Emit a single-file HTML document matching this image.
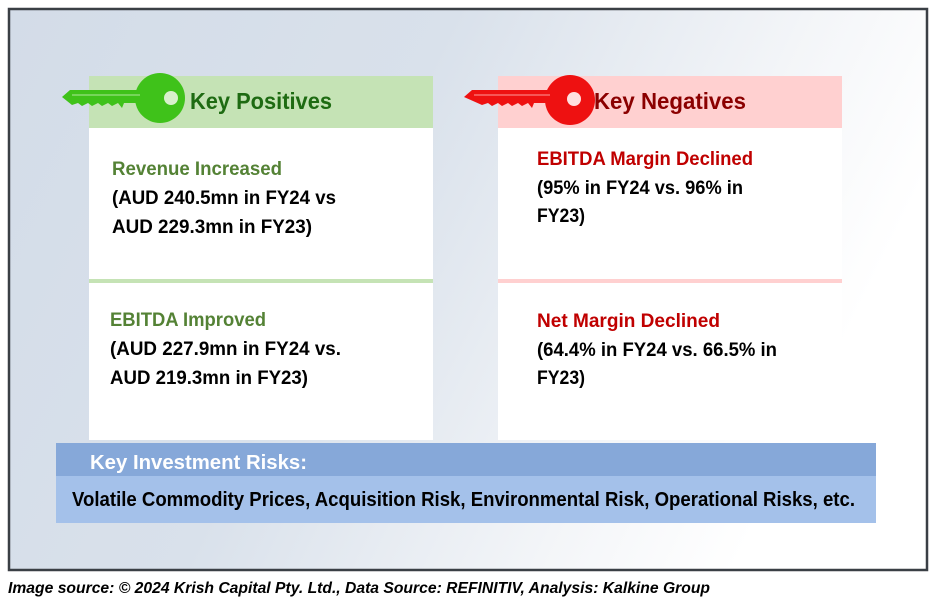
<!DOCTYPE html>
<html><head><meta charset="utf-8"><style>
html,body{margin:0;padding:0;background:#fff}
svg{display:block}
text{font-family:"Liberation Sans",sans-serif;font-weight:bold}
</style></head><body>
<svg width="936" height="604" viewBox="0 0 936 604">
<defs>
<linearGradient id="bg" x1="0" y1="0" x2="1" y2="0.3">
<stop offset="0" stop-color="#d3dce8"/><stop offset="0.45" stop-color="#d9e1eb"/><stop offset="0.8" stop-color="#f3f5f8"/><stop offset="1" stop-color="#ffffff"/>
</linearGradient>
</defs>
<rect x="9" y="9" width="918" height="561" fill="url(#bg)" stroke="#3a3f45" stroke-width="2.5"/>
<g>
<rect x="89" y="76" width="344" height="52" fill="#c5e3b5"/>
<rect x="89" y="128" width="344" height="312" fill="#ffffff"/>
<rect x="89" y="279" width="344" height="4" fill="#c5e3b5"/>
<g fill="#3fc21a">
<circle cx="160" cy="98" r="25"/>
<path d="M62 97 L70 90 L140 90 L140 103 L124 103 L122 108 L118 103 L112 106 L108 103 L102 106 L98 103 L92 106 L88 103 L82 106 L78 103 L72 105 Z"/>
</g>
<line x1="72" y1="95" x2="140" y2="95" stroke="#aee89a" stroke-width="1"/>
<circle cx="171" cy="98" r="7" fill="#d8f0cc"/>
<text x="190" y="109" font-size="23" fill="#1e6b12" textLength="142" lengthAdjust="spacingAndGlyphs">Key Positives</text>
<text x="112" y="175" font-size="19" fill="#548235" textLength="170" lengthAdjust="spacingAndGlyphs">Revenue Increased</text>
<text x="112" y="204" font-size="19" fill="#000" textLength="224" lengthAdjust="spacingAndGlyphs">(AUD 240.5mn in FY24 vs</text>
<text x="112" y="233" font-size="19" fill="#000" textLength="200" lengthAdjust="spacingAndGlyphs">AUD 229.3mn in FY23)</text>
<text x="110" y="326" font-size="19" fill="#548235" textLength="156" lengthAdjust="spacingAndGlyphs">EBITDA Improved</text>
<text x="110" y="355" font-size="19" fill="#000" textLength="231" lengthAdjust="spacingAndGlyphs">(AUD 227.9mn in FY24 vs.</text>
<text x="110" y="384" font-size="19" fill="#000" textLength="198" lengthAdjust="spacingAndGlyphs">AUD 219.3mn in FY23)</text>
</g>
<g>
<rect x="498" y="76" width="344" height="52" fill="#ffd0d0"/>
<rect x="498" y="128" width="344" height="312" fill="#ffffff"/>
<rect x="498" y="279" width="344" height="4" fill="#ffd0d0"/>
<g fill="#ee1111">
<circle cx="570" cy="100" r="25"/>
<path d="M464 97 L472 90 L550 90 L550 103 L534 103 L532 108 L528 103 L522 106 L518 103 L512 106 L508 103 L502 106 L498 103 L492 106 L488 103 L482 105 Z"/>
</g>
<line x1="474" y1="95" x2="550" y2="95" stroke="#ff9a9a" stroke-width="1"/>
<circle cx="574" cy="99" r="7" fill="#ffe0e0"/>
<text x="594" y="109" font-size="23" fill="#8b0000" textLength="152" lengthAdjust="spacingAndGlyphs">Key Negatives</text>
<text x="537" y="165" font-size="19" fill="#c00000" textLength="216" lengthAdjust="spacingAndGlyphs">EBITDA Margin Declined</text>
<text x="537" y="194" font-size="19" fill="#000" textLength="206" lengthAdjust="spacingAndGlyphs">(95% in FY24 vs. 96% in</text>
<text x="537" y="222" font-size="19" fill="#000" textLength="48" lengthAdjust="spacingAndGlyphs">FY23)</text>
<text x="537" y="327" font-size="19" fill="#c00000" textLength="183" lengthAdjust="spacingAndGlyphs">Net Margin Declined</text>
<text x="537" y="356" font-size="19" fill="#000" textLength="240" lengthAdjust="spacingAndGlyphs">(64.4% in FY24 vs. 66.5% in</text>
<text x="537" y="384" font-size="19" fill="#000" textLength="48" lengthAdjust="spacingAndGlyphs">FY23)</text>
</g>
<g>
<rect x="56" y="443" width="820" height="33" fill="#86a8d9"/>
<rect x="56" y="476" width="820" height="47" fill="#a4c1ea"/>
<text x="90" y="469" font-size="20" fill="#ffffff" textLength="217" lengthAdjust="spacingAndGlyphs">Key Investment Risks:</text>
<text x="72" y="506" font-size="20" fill="#000" textLength="783" lengthAdjust="spacingAndGlyphs">Volatile Commodity Prices, Acquisition Risk, Environmental Risk, Operational Risks, etc.</text>
</g>
<text x="8" y="593" font-size="16" font-style="italic" fill="#000" textLength="702" lengthAdjust="spacingAndGlyphs">Image source: © 2024 Krish Capital Pty. Ltd., Data Source: REFINITIV, Analysis: Kalkine Group</text>
</svg>
</body></html>
